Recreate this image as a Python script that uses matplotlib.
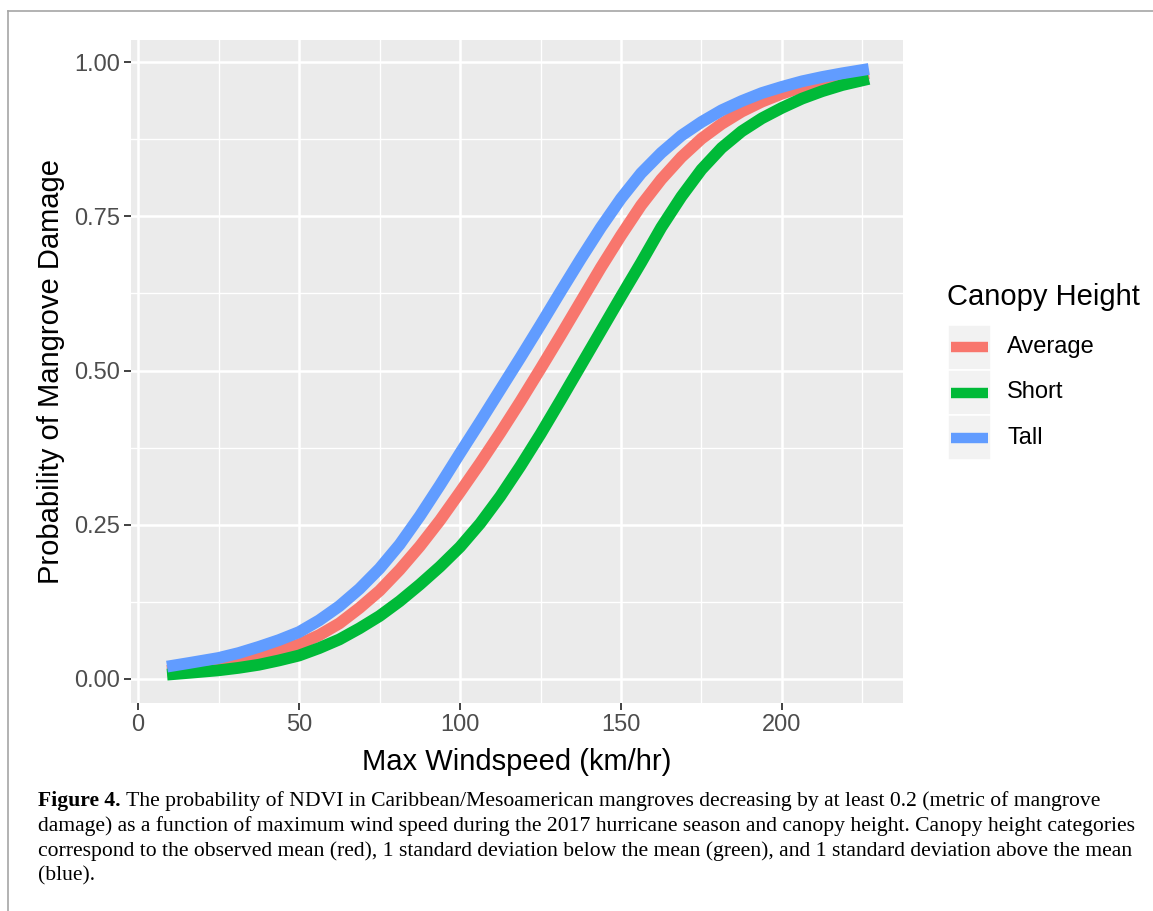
import matplotlib
matplotlib.use('Agg')
import matplotlib.pyplot as plt
from matplotlib.lines import Line2D
from matplotlib.patches import Rectangle

plt.rcParams['font.family'] = ['Liberation Sans', 'DejaVu Sans']

# values
windspeed = [9, 16, 25, 31.25, 37.5, 43.75, 50, 56.25, 62.5, 68.75, 75,
             81.25, 87.5, 93.75, 100, 106.25, 112.5, 118.75, 125, 131.25,
             137.5, 143.75, 150, 156.25, 162.5, 168.75, 175, 181.25, 187.5,
             193.75, 200, 206.25, 212.5, 218.75, 227]
p_average = [0.013, 0.017, 0.023, 0.029, 0.036, 0.045, 0.056, 0.071, 0.090,
             0.115, 0.143, 0.177, 0.215, 0.257, 0.303, 0.350, 0.399, 0.450,
             0.503, 0.557, 0.612, 0.667, 0.719, 0.768, 0.810, 0.846, 0.876,
             0.900, 0.920, 0.936, 0.949, 0.960, 0.968, 0.975, 0.982]
p_short = [0.007, 0.010, 0.014, 0.018, 0.023, 0.030, 0.038, 0.050, 0.064,
           0.082, 0.102, 0.126, 0.153, 0.182, 0.214, 0.252, 0.296, 0.345,
           0.397, 0.452, 0.508, 0.564, 0.620, 0.675, 0.732, 0.782, 0.826,
           0.861, 0.888, 0.909, 0.926, 0.941, 0.953, 0.963, 0.973]
p_tall = [0.020, 0.026, 0.034, 0.042, 0.052, 0.063, 0.076, 0.095, 0.118,
          0.146, 0.179, 0.218, 0.264, 0.314, 0.366, 0.417, 0.469, 0.521,
          0.574, 0.628, 0.681, 0.732, 0.779, 0.820, 0.853, 0.881, 0.903,
          0.922, 0.937, 0.950, 0.960, 0.969, 0.976, 0.982, 0.989]

groups = ['Average', 'Short', 'Tall']
series = [p_average, p_short, p_tall]
colors = ['#F8766D', '#00BA38', '#619CFF']

x_ticks = [0, 50, 100, 150, 200]
x_minor = [25, 75, 125, 175, 225]
y_ticks = [0.0, 0.25, 0.5, 0.75, 1.0]
y_minor = [0.125, 0.375, 0.625, 0.875]
y_labels = ['0.00', '0.25', '0.50', '0.75', '1.00']

caption_bold = 'Figure 4.'
caption_lines = [
    ' The probability of NDVI in Caribbean/Mesoamerican mangroves decreasing by at least 0.2 (metric of mangrove',
    'damage) as a function of maximum wind speed during the 2017 hurricane season and canopy height. Canopy height categories',
    'correspond to the observed mean (red), 1 standard deviation below the mean (green), and 1 standard deviation above the mean',
    '(blue).',
]

W, H = 1153, 911
fig = plt.figure(figsize=(W / 100, H / 100), dpi=100)
fig.patch.set_facecolor('white')

# panel
ax = fig.add_axes([131 / W, 1 - 703 / H, 772 / W, 663 / H])
ax.set_facecolor('#EBEBEB')
for s in ax.spines.values():
    s.set_visible(False)

for xv in x_minor:
    ax.axvline(xv, color='white', lw=1.0, zorder=0)
for yv in y_minor:
    ax.axhline(yv, color='white', lw=1.0, zorder=0)
for xv in x_ticks:
    ax.axvline(xv, color='white', lw=1.8, zorder=0)
for yv in y_ticks:
    ax.axhline(yv, color='white', lw=1.8, zorder=0)

for name, vals, c in zip(groups, series, colors):
    ax.plot(windspeed, vals, color=c, lw=8.5, solid_capstyle='butt',
            solid_joinstyle='round', label=name, zorder=2)

ax.set_xlim(-2.2, 237.6)
ax.set_ylim(-0.039, 1.036)
ax.set_xticks(x_ticks)
ax.set_yticks(y_ticks)
ax.set_yticklabels(y_labels)
ax.tick_params(axis='both', length=5, width=1.3, color='#333333',
               labelcolor='#4D4D4D', labelsize=17, pad=3)

ax.set_xlabel('Max Windspeed (km/hr)', fontsize=21, color='black', va='top')
ax.xaxis.set_label_coords(0.5, -0.068)
ax.set_ylabel('Probability of Mangrove Damage', fontsize=21, color='black')
ax.yaxis.set_label_coords(-0.085, 0.5)

# legend, drawn ggplot style
fig.text(947 / W, 1 - 297 / H, 'Canopy Height', fontsize=21, va='center',
         ha='left')
key_top = 325
key_h = 45
for i, (name, c) in enumerate(zip(groups, colors)):
    y0 = key_top + i * key_h
    fig.add_artist(Rectangle((948 / W, 1 - (y0 + key_h) / H), 43 / W,
                             key_h / H, facecolor='#F2F2F2',
                             edgecolor='white', lw=1.2,
                             transform=fig.transFigure))
    yc = 1 - (y0 + key_h / 2) / H
    fig.add_artist(Line2D([951 / W, 988 / W], [yc, yc], color=c, lw=7.5,
                          solid_capstyle='butt', transform=fig.transFigure))
    fig.text(1007 / W, yc, name, fontsize=17, va='center', ha='left')

# caption
cap_x = 38 / W
line_y = [801, 826, 851, 876]
cap_font = dict(family=['Liberation Serif', 'DejaVu Serif'], fontsize=15.6)
tb = fig.text(cap_x, 1 - line_y[0] / H, caption_bold, fontweight='bold',
              va='center', ha='left', **cap_font)
renderer = fig.canvas.get_renderer()
bb = tb.get_window_extent(renderer)
fig.text(bb.x1 / W, 1 - line_y[0] / H, caption_lines[0], va='center',
         ha='left', **cap_font)
for ly, txt in zip(line_y[1:], caption_lines[1:]):
    fig.text(cap_x, 1 - ly / H, txt, va='center', ha='left', **cap_font)

# frame around the figure
fig.add_artist(Line2D([8 / W, 1], [1 - 11 / H, 1 - 11 / H], color='#A6A6A6',
                      lw=1.2, transform=fig.transFigure))
fig.add_artist(Line2D([8 / W, 8 / W], [0, 1 - 11 / H], color='#A6A6A6',
                      lw=1.2, transform=fig.transFigure))

fig.savefig('out.png', dpi=100)
